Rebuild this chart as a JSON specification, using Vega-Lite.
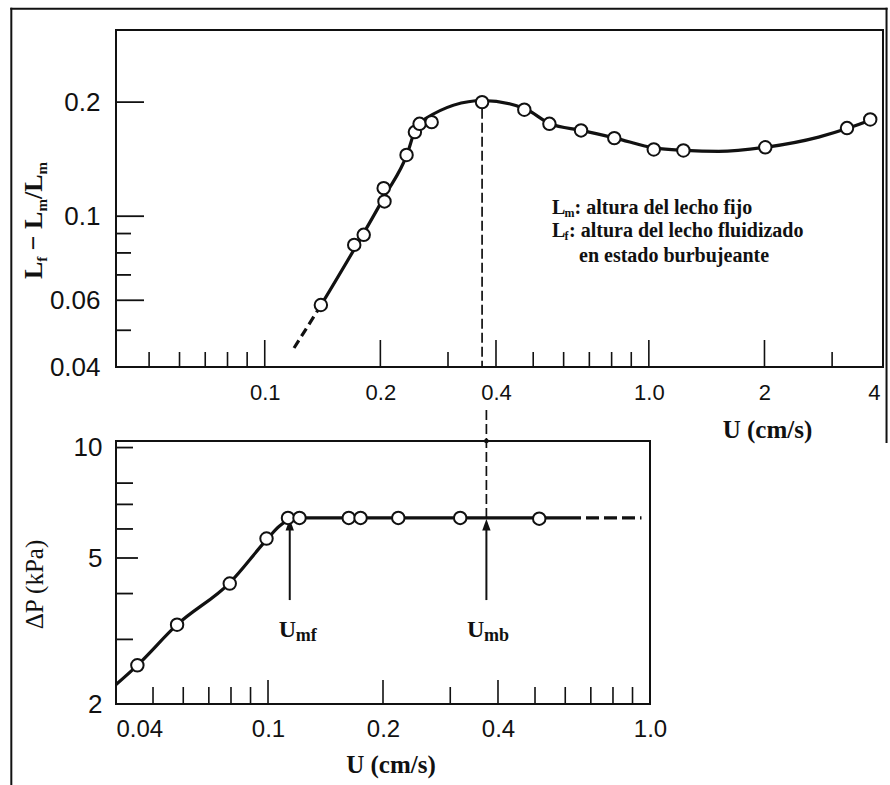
{
  "$schema": "https://vega.github.io/schema/vega-lite/v6.json",
  "background": "white",
  "padding": {"left": 8, "top": 6, "right": 1, "bottom": 0},
  "bounds": "flush",
  "spacing": 74,
  "config": {
    "view": {"stroke": "#111", "strokeWidth": 2},
    "axis": {"grid": false, "ticks": false, "tickSize": 0, "domain": false, "labelFont": "Liberation Sans", "labelColor": "#111", "labelFlush": false, "labelOverlap": false, "labelBound": false, "titleColor": "#111"}
  },
  "datasets": {
    "topPts": [
      {"U": 0.140, "r": 0.0583}, {"U": 0.171, "r": 0.084}, {"U": 0.181, "r": 0.0893},
      {"U": 0.205, "r": 0.1094}, {"U": 0.204, "r": 0.1186}, {"U": 0.234, "r": 0.1451},
      {"U": 0.246, "r": 0.1667}, {"U": 0.253, "r": 0.1753}, {"U": 0.272, "r": 0.1771},
      {"U": 0.368, "r": 0.200}, {"U": 0.474, "r": 0.191}, {"U": 0.551, "r": 0.1753},
      {"U": 0.666, "r": 0.1684}, {"U": 0.813, "r": 0.1607}, {"U": 1.03, "r": 0.150},
      {"U": 1.23, "r": 0.1491}, {"U": 2.01, "r": 0.152}, {"U": 3.28, "r": 0.1708},
      {"U": 3.77, "r": 0.180}
    ],
    "topCurve": [
      {"U": 0.1401, "r": 0.0582}, {"U": 0.2057, "r": 0.1135}, {"U": 0.2344, "r": 0.1451},
      {"U": 0.2463, "r": 0.1684}, {"U": 0.2615, "r": 0.1807}, {"U": 0.3695, "r": 0.202},
      {"U": 0.4764, "r": 0.192}, {"U": 0.5533, "r": 0.1753}, {"U": 0.669, "r": 0.1684},
      {"U": 0.817, "r": 0.1607}, {"U": 1.039, "r": 0.1512}, {"U": 1.239, "r": 0.1491},
      {"U": 1.519, "r": 0.1482}, {"U": 2.029, "r": 0.1522}, {"U": 2.767, "r": 0.1617},
      {"U": 3.31, "r": 0.1708}, {"U": 3.81, "r": 0.180}
    ],
    "topDash": [{"U": 0.1401, "r": 0.0582}, {"U": 0.1192, "r": 0.0449}],
    "topXMajor": [{"U": 0.1}, {"U": 0.2}, {"U": 0.4}, {"U": 1}, {"U": 2}],
    "topXMinor": [{"U": 0.05}, {"U": 0.06}, {"U": 0.07}, {"U": 0.08}, {"U": 0.09}, {"U": 0.3}, {"U": 0.5}, {"U": 0.6}, {"U": 0.7}, {"U": 0.8}, {"U": 0.9}, {"U": 3}],
    "topYMajor": [{"r": 0.06}, {"r": 0.1}, {"r": 0.2}],
    "topYMinor": [{"r": 0.05}, {"r": 0.07}, {"r": 0.08}, {"r": 0.09}],
    "botPts": [
      {"U": 0.0455, "P": 2.55}, {"U": 0.0578, "P": 3.29}, {"U": 0.0794, "P": 4.26},
      {"U": 0.0991, "P": 5.65}, {"U": 0.1128, "P": 6.43}, {"U": 0.1209, "P": 6.43},
      {"U": 0.1627, "P": 6.43}, {"U": 0.1747, "P": 6.43}, {"U": 0.2193, "P": 6.43},
      {"U": 0.3185, "P": 6.43}, {"U": 0.5129, "P": 6.4}
    ],
    "botCurve": [
      {"U": 0.04, "P": 2.26}, {"U": 0.0455, "P": 2.55}, {"U": 0.0578, "P": 3.29},
      {"U": 0.0794, "P": 4.28}, {"U": 0.0991, "P": 5.6}, {"U": 0.107, "P": 6.1},
      {"U": 0.114, "P": 6.36}, {"U": 0.124, "P": 6.43}, {"U": 0.61, "P": 6.43}
    ],
    "botDash": [{"U": 0.61, "P": 6.43}, {"U": 0.95, "P": 6.43}],
    "arrows": [{"U": 0.114}, {"U": 0.373}],
    "ulabels": [{"U": 0.1067, "sub": "mf"}, {"U": 0.3319, "sub": "mb"}],
    "botXMajor": [{"U": 0.1}, {"U": 0.2}, {"U": 0.4}],
    "botXMinor": [{"U": 0.05}, {"U": 0.06}, {"U": 0.07}, {"U": 0.08}, {"U": 0.09}, {"U": 0.3}, {"U": 0.5}, {"U": 0.6}, {"U": 0.7}, {"U": 0.8}, {"U": 0.9}],
    "botYMajor": [{"P": 5}],
    "botYMinor": [{"P": 3}, {"P": 4}, {"P": 6}, {"P": 7}, {"P": 8}, {"P": 10}]
  },
  "vconcat": [
    {
      "width": 767,
      "height": 337,
      "layer": [
        {
          "data": {"name": "topCurve"},
          "mark": {"type": "line", "interpolate": "monotone", "color": "#111", "strokeWidth": 3.2},
          "encoding": {
            "x": {"field": "U", "type": "quantitative",
              "scale": {"type": "log", "domain": [0.041, 4.07], "nice": false},
              "axis": {"values": [0.1, 0.2, 0.4, 1, 2, 4],
                "labelExpr": "datum.value == 1 ? '1.0' : format(datum.value, '~g')",
                "labelAlign": {"condition": {"test": "datum.value >= 4", "value": "right"}, "value": "center"},
                "labelFontSize": 22, "labelPadding": 15,
                "title": "U (cm/s)", "titleFont": "Liberation Serif", "titleFontWeight": "bold", "titleFontSize": 25,
                "titleX": 651, "titleY": 50, "titleAlign": "center", "titleBaseline": "top"}},
            "y": {"field": "r", "type": "quantitative",
              "scale": {"type": "log", "domain": [0.04, 0.31], "nice": false},
              "axis": {"values": [0.04, 0.06, 0.1, 0.2], "labelExpr": "format(datum.value, '~g')",
                "labelFontSize": 26, "labelPadding": 16, "title": null}}
          }
        },
        {
          "data": {"name": "topDash"},
          "mark": {"type": "line", "color": "#111", "strokeWidth": 3.2, "strokeDash": [9, 5]},
          "encoding": {"x": {"field": "U", "type": "quantitative"}, "y": {"field": "r", "type": "quantitative"}}
        },
        {
          "data": {"values": [{}]},
          "mark": {"type": "rule", "color": "#111", "strokeWidth": 1.7, "strokeDash": [10, 4]},
          "encoding": {"x": {"datum": 0.368}, "y": {"datum": 0.192}, "y2": {"datum": 0.04}}
        },
        {
          "data": {"name": "topXMajor"},
          "mark": {"type": "rule", "color": "#111", "strokeWidth": 1.6},
          "encoding": {"x": {"field": "U", "type": "quantitative"}, "y": {"datum": 0.04}, "y2": {"datum": 0.04713}}
        },
        {
          "data": {"name": "topXMinor"},
          "mark": {"type": "rule", "color": "#111", "strokeWidth": 1.6},
          "encoding": {"x": {"field": "U", "type": "quantitative"}, "y": {"datum": 0.04}, "y2": {"datum": 0.04382}}
        },
        {
          "data": {"name": "topYMajor"},
          "mark": {"type": "rule", "color": "#111", "strokeWidth": 1.8},
          "encoding": {"y": {"field": "r", "type": "quantitative"}, "x": {"datum": 0.041}, "x2": {"datum": 0.04849}}
        },
        {
          "data": {"name": "topYMinor"},
          "mark": {"type": "rule", "color": "#111", "strokeWidth": 1.8},
          "encoding": {"y": {"field": "r", "type": "quantitative"}, "x": {"datum": 0.041}, "x2": {"datum": 0.04486}}
        },
        {
          "data": {"values": [{}]},
          "mark": {"type": "rule", "color": "#111", "strokeWidth": 2, "strokeCap": "square"},
          "encoding": {"x": {"datum": 0.02189}, "y": {"datum": 0.3528}, "y2": {"datum": 0.003136}}
        },
        {
          "data": {"values": [{}]},
          "mark": {"type": "rule", "color": "#111", "strokeWidth": 2, "strokeCap": "square"},
          "encoding": {"x": {"datum": 0.02189}, "x2": {"datum": 4.157}, "y": {"datum": 0.3528}}
        },
        {
          "data": {"values": [{}]},
          "mark": {"type": "rule", "color": "#111", "strokeWidth": 2, "strokeCap": "square"},
          "encoding": {"x": {"datum": 4.157}, "y": {"datum": 0.3528}, "y2": {"datum": 0.02536}}
        },
        {
          "data": {"values": [{}]},
          "mark": {"type": "text", "text": "L", "font": "Liberation Serif", "fontWeight": "bold", "fontSize": 20, "align": "left", "baseline": "alphabetic", "color": "#111"},
          "encoding": {"x": {"datum": 0.5597}, "y": {"datum": 0.1013}}
        },
        {
          "data": {"values": [{}]},
          "mark": {"type": "text", "text": "m", "font": "Liberation Serif", "fontWeight": "bold", "fontSize": 12, "align": "left", "baseline": "alphabetic", "dx": 12.5, "dy": 3, "color": "#111"},
          "encoding": {"x": {"datum": 0.5597}, "y": {"datum": 0.1013}}
        },
        {
          "data": {"values": [{}]},
          "mark": {"type": "text", "text": ": altura del lecho fijo", "font": "Liberation Serif", "fontWeight": "bold", "fontSize": 20, "align": "left", "baseline": "alphabetic", "dx": 22.5, "color": "#111"},
          "encoding": {"x": {"datum": 0.5597}, "y": {"datum": 0.1013}}
        },
        {
          "data": {"values": [{}]},
          "mark": {"type": "text", "text": "L", "font": "Liberation Serif", "fontWeight": "bold", "fontSize": 20, "align": "left", "baseline": "alphabetic", "color": "#111"},
          "encoding": {"x": {"datum": 0.5597}, "y": {"datum": 0.0881}}
        },
        {
          "data": {"values": [{}]},
          "mark": {"type": "text", "text": "f", "font": "Liberation Serif", "fontWeight": "bold", "fontSize": 12, "align": "left", "baseline": "alphabetic", "dx": 12.5, "dy": 3, "color": "#111"},
          "encoding": {"x": {"datum": 0.5597}, "y": {"datum": 0.0881}}
        },
        {
          "data": {"values": [{}]},
          "mark": {"type": "text", "text": ": altura del lecho fluidizado", "font": "Liberation Serif", "fontWeight": "bold", "fontSize": 20, "align": "left", "baseline": "alphabetic", "dx": 17, "color": "#111"},
          "encoding": {"x": {"datum": 0.5597}, "y": {"datum": 0.0881}}
        },
        {
          "data": {"values": [{}]},
          "mark": {"type": "text", "text": "en estado burbujeante", "font": "Liberation Serif", "fontWeight": "bold", "fontSize": 20, "align": "center", "baseline": "alphabetic", "color": "#111"},
          "encoding": {"x": {"datum": 1.163}, "y": {"datum": 0.0757}}
        },
        {
          "data": {"values": [{}]},
          "mark": {"type": "text", "text": "L", "font": "Liberation Serif", "fontWeight": "bold", "fontSize": 26, "angle": 270, "align": "left", "baseline": "alphabetic", "color": "#111"},
          "encoding": {"x": {"datum": 0.0263}, "y": {"datum": 0.06826}}
        },
        {
          "data": {"values": [{}]},
          "mark": {"type": "text", "text": "f", "font": "Liberation Serif", "fontWeight": "bold", "fontSize": 15, "angle": 270, "align": "left", "baseline": "alphabetic", "dx": 17.3, "dy": 5, "color": "#111"},
          "encoding": {"x": {"datum": 0.0263}, "y": {"datum": 0.06826}}
        },
        {
          "data": {"values": [{}]},
          "mark": {"type": "text", "text": "− L", "font": "Liberation Serif", "fontWeight": "bold", "fontSize": 26, "angle": 270, "align": "left", "baseline": "alphabetic", "dx": 28.8, "color": "#111"},
          "encoding": {"x": {"datum": 0.0263}, "y": {"datum": 0.06826}}
        },
        {
          "data": {"values": [{}]},
          "mark": {"type": "text", "text": "m", "font": "Liberation Serif", "fontWeight": "bold", "fontSize": 15, "angle": 270, "align": "left", "baseline": "alphabetic", "dx": 67.5, "dy": 5, "color": "#111"},
          "encoding": {"x": {"datum": 0.0263}, "y": {"datum": 0.06826}}
        },
        {
          "data": {"values": [{}]},
          "mark": {"type": "text", "text": "/L", "font": "Liberation Serif", "fontWeight": "bold", "fontSize": 26, "angle": 270, "align": "left", "baseline": "alphabetic", "dx": 80.0, "color": "#111"},
          "encoding": {"x": {"datum": 0.0263}, "y": {"datum": 0.06826}}
        },
        {
          "data": {"values": [{}]},
          "mark": {"type": "text", "text": "m", "font": "Liberation Serif", "fontWeight": "bold", "fontSize": 15, "angle": 270, "align": "left", "baseline": "alphabetic", "dx": 104.6, "dy": 5, "color": "#111"},
          "encoding": {"x": {"datum": 0.0263}, "y": {"datum": 0.06826}}
        },
        {
          "data": {"name": "topPts"},
          "mark": {"type": "point", "shape": "circle", "filled": true, "fill": "white", "stroke": "#111", "strokeWidth": 2, "size": 155, "opacity": 1},
          "encoding": {"x": {"field": "U", "type": "quantitative"}, "y": {"field": "r", "type": "quantitative"}}
        }
      ]
    },
    {
      "width": 534,
      "height": 263,
      "layer": [
        {
          "data": {"name": "botCurve"},
          "mark": {"type": "line", "interpolate": "monotone", "color": "#111", "strokeWidth": 3.2},
          "encoding": {
            "x": {"field": "U", "type": "quantitative",
              "scale": {"type": "log", "domain": [0.04, 1.0], "nice": false},
              "axis": {"values": [0.04, 0.1, 0.2, 0.4, 1],
                "labelExpr": "datum.value == 1 ? '1.0' : format(datum.value, '~g')",
                "labelAlign": {"condition": {"test": "datum.value <= 0.04", "value": "left"}, "value": "center"},
                "labelFontSize": 24, "labelPadding": 13,
                "title": "U (cm/s)", "titleFont": "Liberation Serif", "titleFontWeight": "bold", "titleFontSize": 25,
                "titleX": 274.5, "titleY": 48, "titleAlign": "center", "titleBaseline": "top"}},
            "y": {"field": "P", "type": "quantitative",
              "scale": {"type": "log", "domain": [2, 10.42], "nice": false},
              "axis": {"values": [2, 5, 10], "labelExpr": "format(datum.value, '~g')",
                "labelFontSize": 26, "labelPadding": 14,
                "title": "ΔP (kPa)", "titleFont": "Liberation Serif", "titleFontWeight": "normal", "titleFontSize": 25,
                "titleAngle": 270, "titleX": -69, "titleY": 143, "titleAlign": "center", "titleBaseline": "bottom"}}
          }
        },
        {
          "data": {"name": "botDash"},
          "mark": {"type": "line", "color": "#111", "strokeWidth": 3.2, "strokeDash": [13, 5]},
          "encoding": {"x": {"field": "U", "type": "quantitative"}, "y": {"field": "P", "type": "quantitative"}}
        },
        {
          "data": {"values": [{}]},
          "mark": {"type": "rule", "color": "#111", "strokeWidth": 1.7, "strokeDash": [10, 4]},
          "encoding": {"x": {"datum": 0.373}, "y": {"datum": 6.43}, "y2": {"datum": 12.74}}
        },
        {
          "data": {"values": [{}]},
          "mark": {"type": "point", "shape": "circle", "filled": true, "color": "#111", "size": 22, "opacity": 1},
          "encoding": {"x": {"datum": 0.373}, "y": {"datum": 10.42}}
        },
        {
          "data": {"name": "arrows"},
          "mark": {"type": "rule", "color": "#111", "strokeWidth": 2},
          "encoding": {"x": {"field": "U", "type": "quantitative"}, "y": {"datum": 3.84}, "y2": {"datum": 5.96}}
        },
        {
          "data": {"name": "arrows"},
          "mark": {"type": "point", "shape": "M0,-1L0.7,0.9L-0.7,0.9Z", "filled": true, "color": "#111", "size": 144, "opacity": 1},
          "encoding": {"x": {"field": "U", "type": "quantitative"}, "y": {"datum": 6.15}}
        },
        {
          "data": {"name": "botXMajor"},
          "mark": {"type": "rule", "color": "#111", "strokeWidth": 1.6},
          "encoding": {"x": {"field": "U", "type": "quantitative"}, "y": {"datum": 2}, "y2": {"datum": 2.325}}
        },
        {
          "data": {"name": "botXMinor"},
          "mark": {"type": "rule", "color": "#111", "strokeWidth": 1.6},
          "encoding": {"x": {"field": "U", "type": "quantitative"}, "y": {"datum": 2}, "y2": {"datum": 2.225}}
        },
        {
          "data": {"name": "botYMajor"},
          "mark": {"type": "rule", "color": "#111", "strokeWidth": 1.8},
          "encoding": {"y": {"field": "P", "type": "quantitative"}, "x": {"datum": 0.04}, "x2": {"datum": 0.04566}}
        },
        {
          "data": {"name": "botYMinor"},
          "mark": {"type": "rule", "color": "#111", "strokeWidth": 1.8},
          "encoding": {"y": {"field": "P", "type": "quantitative"}, "x": {"datum": 0.04}, "x2": {"datum": 0.04431}}
        },
        {
          "data": {"name": "ulabels"},
          "mark": {"type": "text", "text": "U", "font": "Liberation Serif", "fontWeight": "bold", "fontSize": 24, "align": "left", "baseline": "alphabetic", "color": "#111"},
          "encoding": {"x": {"field": "U", "type": "quantitative"}, "y": {"datum": 3.044}}
        },
        {
          "data": {"name": "ulabels"},
          "mark": {"type": "text", "font": "Liberation Serif", "fontWeight": "bold", "fontSize": 18, "align": "left", "baseline": "alphabetic", "dx": 17, "dy": 4, "color": "#111"},
          "encoding": {"x": {"field": "U", "type": "quantitative"}, "y": {"datum": 3.044}, "text": {"field": "sub"}}
        },
        {
          "data": {"name": "botPts"},
          "mark": {"type": "point", "shape": "circle", "filled": true, "fill": "white", "stroke": "#111", "strokeWidth": 2, "size": 155, "opacity": 1},
          "encoding": {"x": {"field": "U", "type": "quantitative"}, "y": {"field": "P", "type": "quantitative"}}
        }
      ]
    }
  ]
}
